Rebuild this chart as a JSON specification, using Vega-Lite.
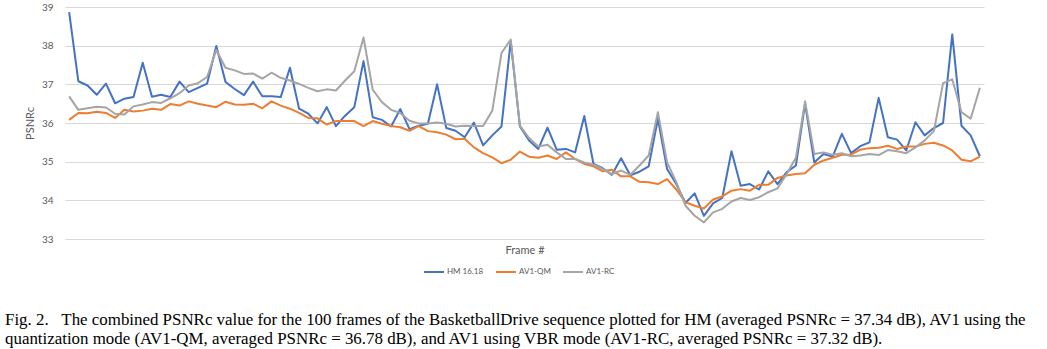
{
  "$schema": "https://vega.github.io/schema/vega-lite/v6.json",
  "width": 919,
  "height": 232,
  "autosize": {"type": "none"},
  "padding": {"left": 65, "top": 7, "right": 63, "bottom": 110},
  "background": "white",
  "title": {
    "text": [
      "Fig. 2.\u00a0\u00a0\u00a0The combined PSNRc value for the 100 frames of the BasketballDrive sequence plotted for HM (averaged PSNRc = 37.34 dB), AV1 using the",
      "quantization mode (AV1-QM, averaged PSNRc = 36.78 dB), and AV1 using VBR mode (AV1-RC, averaged PSNRc = 37.32 dB)."
    ],
    "orient": "bottom",
    "anchor": "start",
    "frame": "group",
    "dx": -60,
    "offset": 36,
    "font": "Liberation Serif",
    "fontSize": 16.9,
    "fontWeight": "normal",
    "color": "#000000",
    "lineHeight": 19
  },
  "data": {
    "values": [
      {"f":0,"HM":38.87,"QM":36.08,"RC":36.69},
      {"f":1,"HM":37.08,"QM":36.26,"RC":36.34},
      {"f":2,"HM":36.97,"QM":36.25,"RC":36.38},
      {"f":3,"HM":36.73,"QM":36.29,"RC":36.42},
      {"f":4,"HM":37.02,"QM":36.26,"RC":36.40},
      {"f":5,"HM":36.51,"QM":36.13,"RC":36.24},
      {"f":6,"HM":36.63,"QM":36.34,"RC":36.22},
      {"f":7,"HM":36.67,"QM":36.30,"RC":36.43},
      {"f":8,"HM":37.56,"QM":36.32,"RC":36.48},
      {"f":9,"HM":36.68,"QM":36.37,"RC":36.54},
      {"f":10,"HM":36.73,"QM":36.34,"RC":36.52},
      {"f":11,"HM":36.67,"QM":36.49,"RC":36.64},
      {"f":12,"HM":37.07,"QM":36.45,"RC":36.77},
      {"f":13,"HM":36.80,"QM":36.56,"RC":36.97},
      {"f":14,"HM":36.91,"QM":36.50,"RC":37.03},
      {"f":15,"HM":37.02,"QM":36.45,"RC":37.19},
      {"f":16,"HM":37.99,"QM":36.41,"RC":37.89},
      {"f":17,"HM":37.06,"QM":36.55,"RC":37.43},
      {"f":18,"HM":36.88,"QM":36.48,"RC":37.36},
      {"f":19,"HM":36.72,"QM":36.47,"RC":37.27},
      {"f":20,"HM":37.07,"QM":36.50,"RC":37.28},
      {"f":21,"HM":36.69,"QM":36.38,"RC":37.15},
      {"f":22,"HM":36.69,"QM":36.56,"RC":37.30},
      {"f":23,"HM":36.67,"QM":36.45,"RC":37.17},
      {"f":24,"HM":37.43,"QM":36.37,"RC":37.10},
      {"f":25,"HM":36.37,"QM":36.26,"RC":37.01},
      {"f":26,"HM":36.24,"QM":36.13,"RC":36.91},
      {"f":27,"HM":35.99,"QM":36.12,"RC":36.82},
      {"f":28,"HM":36.41,"QM":35.96,"RC":36.87},
      {"f":29,"HM":35.92,"QM":36.05,"RC":36.84},
      {"f":30,"HM":36.19,"QM":36.05,"RC":37.10},
      {"f":31,"HM":36.41,"QM":36.05,"RC":37.34},
      {"f":32,"HM":37.60,"QM":35.92,"RC":38.21},
      {"f":33,"HM":36.15,"QM":36.05,"RC":36.86},
      {"f":34,"HM":36.08,"QM":35.98,"RC":36.54},
      {"f":35,"HM":35.91,"QM":35.92,"RC":36.34},
      {"f":36,"HM":36.36,"QM":35.89,"RC":36.26},
      {"f":37,"HM":35.84,"QM":35.80,"RC":36.06},
      {"f":38,"HM":35.93,"QM":35.92,"RC":35.99},
      {"f":39,"HM":35.98,"QM":35.79,"RC":35.99},
      {"f":40,"HM":37.00,"QM":35.76,"RC":36.01},
      {"f":41,"HM":35.87,"QM":35.70,"RC":35.98},
      {"f":42,"HM":35.80,"QM":35.58,"RC":35.91},
      {"f":43,"HM":35.63,"QM":35.59,"RC":35.93},
      {"f":44,"HM":36.01,"QM":35.37,"RC":35.92},
      {"f":45,"HM":35.42,"QM":35.22,"RC":35.92},
      {"f":46,"HM":35.68,"QM":35.11,"RC":36.32},
      {"f":47,"HM":35.91,"QM":34.96,"RC":37.81},
      {"f":48,"HM":38.12,"QM":35.05,"RC":38.16},
      {"f":49,"HM":35.91,"QM":35.26,"RC":35.93},
      {"f":50,"HM":35.55,"QM":35.13,"RC":35.61},
      {"f":51,"HM":35.33,"QM":35.10,"RC":35.39},
      {"f":52,"HM":35.88,"QM":35.16,"RC":35.44},
      {"f":53,"HM":35.31,"QM":35.07,"RC":35.24},
      {"f":54,"HM":35.33,"QM":35.24,"RC":35.07},
      {"f":55,"HM":35.24,"QM":35.07,"RC":35.07},
      {"f":56,"HM":36.18,"QM":34.94,"RC":34.98},
      {"f":57,"HM":34.94,"QM":34.88,"RC":34.92},
      {"f":58,"HM":34.83,"QM":34.75,"RC":34.81},
      {"f":59,"HM":34.66,"QM":34.79,"RC":34.68},
      {"f":60,"HM":35.09,"QM":34.62,"RC":34.77},
      {"f":61,"HM":34.65,"QM":34.62,"RC":34.66},
      {"f":62,"HM":34.74,"QM":34.48,"RC":34.90},
      {"f":63,"HM":34.88,"QM":34.47,"RC":35.16},
      {"f":64,"HM":36.11,"QM":34.42,"RC":36.28},
      {"f":65,"HM":34.81,"QM":34.55,"RC":34.98},
      {"f":66,"HM":34.42,"QM":34.28,"RC":34.47},
      {"f":67,"HM":33.93,"QM":33.95,"RC":33.86},
      {"f":68,"HM":34.18,"QM":33.86,"RC":33.60},
      {"f":69,"HM":33.60,"QM":33.79,"RC":33.43},
      {"f":70,"HM":33.92,"QM":34.02,"RC":33.69},
      {"f":71,"HM":34.06,"QM":34.10,"RC":33.78},
      {"f":72,"HM":35.27,"QM":34.25,"RC":33.97},
      {"f":73,"HM":34.38,"QM":34.29,"RC":34.06},
      {"f":74,"HM":34.42,"QM":34.25,"RC":34.01},
      {"f":75,"HM":34.28,"QM":34.40,"RC":34.08},
      {"f":76,"HM":34.75,"QM":34.40,"RC":34.21},
      {"f":77,"HM":34.42,"QM":34.58,"RC":34.31},
      {"f":78,"HM":34.73,"QM":34.64,"RC":34.68},
      {"f":79,"HM":34.90,"QM":34.68,"RC":35.10},
      {"f":80,"HM":36.51,"QM":34.70,"RC":36.56},
      {"f":81,"HM":34.98,"QM":34.92,"RC":35.20},
      {"f":82,"HM":35.20,"QM":35.03,"RC":35.24},
      {"f":83,"HM":35.13,"QM":35.10,"RC":35.18},
      {"f":84,"HM":35.72,"QM":35.18,"RC":35.22},
      {"f":85,"HM":35.22,"QM":35.18,"RC":35.14},
      {"f":86,"HM":35.40,"QM":35.31,"RC":35.16},
      {"f":87,"HM":35.50,"QM":35.35,"RC":35.20},
      {"f":88,"HM":36.65,"QM":35.36,"RC":35.17},
      {"f":89,"HM":35.63,"QM":35.41,"RC":35.30},
      {"f":90,"HM":35.57,"QM":35.33,"RC":35.27},
      {"f":91,"HM":35.29,"QM":35.39,"RC":35.22},
      {"f":92,"HM":36.02,"QM":35.39,"RC":35.37},
      {"f":93,"HM":35.68,"QM":35.46,"RC":35.55},
      {"f":94,"HM":35.87,"QM":35.49,"RC":35.79},
      {"f":95,"HM":36.00,"QM":35.42,"RC":37.03},
      {"f":96,"HM":38.29,"QM":35.29,"RC":37.13},
      {"f":97,"HM":35.93,"QM":35.05,"RC":36.28},
      {"f":98,"HM":35.68,"QM":35.01,"RC":36.11},
      {"f":99,"HM":35.14,"QM":35.13,"RC":36.91}
    ]
  },
  "transform": [
    {"fold": ["HM", "QM", "RC"], "as": ["key", "psnr"]},
    {"lookup": "key", "from": {"data": {"values": [
      {"key": "HM", "series": "HM 16.18"},
      {"key": "QM", "series": "AV1-QM"},
      {"key": "RC", "series": "AV1-RC"}
    ]}, "key": "key", "fields": ["series"]}}
  ],
  "mark": {"type": "line", "strokeWidth": 2, "strokeJoin": "round"},
  "encoding": {
    "x": {
      "field": "f", "type": "quantitative",
      "scale": {"domain": [-0.45, 99.45], "nice": false, "zero": false},
      "axis": {
        "title": "Frame #", "labels": false, "ticks": false, "domain": false, "grid": false,
        "titleFont": "Lato", "titleFontSize": 11, "titleFontWeight": "normal",
        "titleColor": "#595959", "titlePadding": 5
      }
    },
    "y": {
      "field": "psnr", "type": "quantitative",
      "scale": {"domain": [33, 39], "nice": false, "zero": false},
      "axis": {
        "title": "PSNRc", "values": [33, 34, 35, 36, 37, 38, 39],
        "domain": false, "ticks": false, "grid": true, "gridColor": "#D9D9D9", "gridWidth": 1,
        "labelFont": "Lato", "labelFontSize": 10, "labelColor": "#595959", "labelPadding": 12,
        "titleFont": "Lato", "titleFontSize": 11, "titleFontWeight": "normal",
        "titleColor": "#595959", "titlePadding": 6
      }
    },
    "color": {
      "field": "series", "type": "nominal",
      "scale": {"domain": ["HM 16.18", "AV1-QM", "AV1-RC"], "range": ["#4472C4", "#ED7D31", "#A5A5A5"]},
      "legend": {
        "title": null, "orient": "none", "direction": "horizontal",
        "legendX": 358, "legendY": 254,
        "symbolType": "stroke", "symbolStrokeWidth": 2, "symbolSize": 400,
        "labelFont": "Lato", "labelFontSize": 8, "labelColor": "#595959",
        "columnPadding": 8, "labelOffset": 2
      }
    }
  },
  "config": {"view": {"stroke": null}}
}
